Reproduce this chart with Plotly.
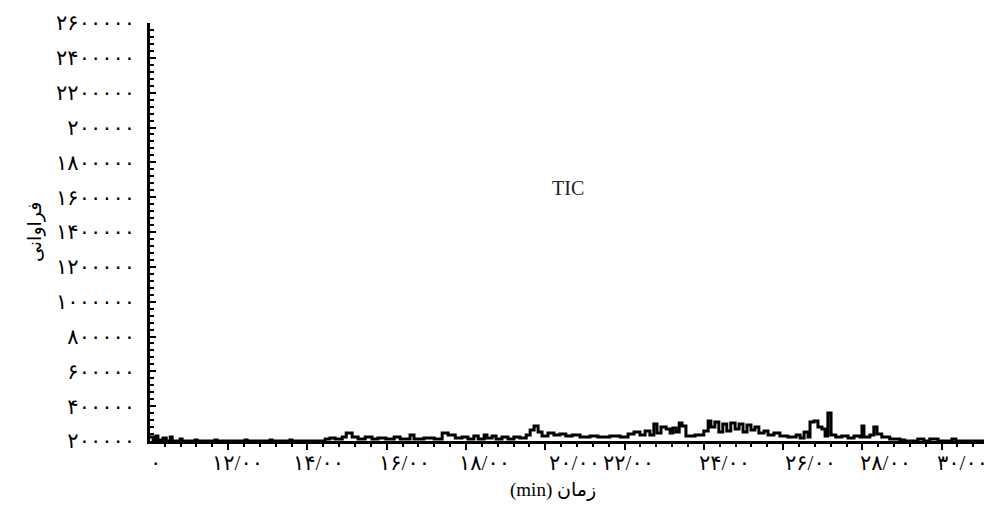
import plotly.graph_objects as go

# ---- data ----
time_min = [10.03, 10.11, 10.18, 10.23, 10.36, 10.44, 10.54, 10.59, 10.79, 10.84,
            11.17, 11.22, 11.67, 11.72, 12.43, 12.48, 13.06, 13.11, 13.56, 13.61,
            14.45, 14.57, 14.70, 14.88, 14.98, 15.13, 15.28, 15.46, 15.63, 15.78,
            15.98, 16.19, 16.34, 16.59, 16.69, 16.94, 17.20, 17.40, 17.55, 17.73,
            17.90, 18.05, 18.20, 18.31, 18.46, 18.53, 18.66, 18.76, 18.91, 19.06,
            19.21, 19.36, 19.52, 19.62, 19.72, 19.82, 19.92, 20.07, 20.22, 20.37,
            20.52, 20.68, 20.88, 21.13, 21.33, 21.63, 21.89, 22.09, 22.24, 22.39,
            22.52, 22.64, 22.74, 22.82, 22.92, 23.05, 23.15, 23.22, 23.30, 23.38,
            23.45, 23.55, 23.78, 24.00, 24.11, 24.18, 24.28, 24.38, 24.48, 24.58,
            24.68, 24.79, 24.89, 24.99, 25.09, 25.19, 25.29, 25.39, 25.52, 25.62,
            25.77, 25.92, 26.12, 26.33, 26.43, 26.53, 26.63, 26.68, 26.78, 26.88,
            26.98, 27.06, 27.13, 27.21, 27.33, 27.48, 27.64, 27.79, 27.94, 27.99,
            28.04, 28.19, 28.29, 28.37, 28.49, 28.69, 28.95, 29.07, 29.40, 29.55,
            29.70, 29.91, 30.26, 30.36, 31.22]
tic_abundance = [223000, 206000, 229000, 206000, 217000, 200000, 223000, 200000, 211000, 200000,
                 206000, 200000, 206000, 200000, 206000, 200000, 206000, 200000, 206000, 200000,
                 211000, 217000, 211000, 223000, 246000, 223000, 211000, 223000, 211000, 217000,
                 211000, 223000, 211000, 234000, 211000, 217000, 211000, 246000, 234000, 217000,
                 223000, 211000, 229000, 211000, 234000, 217000, 229000, 211000, 223000, 211000,
                 223000, 217000, 234000, 263000, 286000, 252000, 229000, 246000, 234000, 240000,
                 229000, 234000, 223000, 229000, 223000, 229000, 223000, 240000, 252000, 234000,
                 257000, 234000, 298000, 246000, 280000, 269000, 246000, 275000, 252000, 303000,
                 286000, 229000, 234000, 257000, 315000, 280000, 309000, 252000, 298000, 257000,
                 303000, 269000, 298000, 252000, 292000, 263000, 280000, 246000, 257000, 234000,
                 246000, 229000, 223000, 234000, 217000, 252000, 223000, 309000, 315000, 280000,
                 269000, 229000, 361000, 234000, 223000, 229000, 217000, 229000, 223000, 286000,
                 223000, 234000, 280000, 240000, 223000, 211000, 206000, 200000, 211000, 200000,
                 211000, 200000, 211000, 200000, 200000]

y_tick_values = [200000, 400000, 600000, 800000, 1000000, 1200000, 1400000,
                 1600000, 1800000, 2000000, 2200000, 2400000, 2600000]
y_tick_labels = ["۲۰۰۰۰۰", "۴۰۰۰۰۰", "۶۰۰۰۰۰", "۸۰۰۰۰۰", "۱۰۰۰۰۰۰", "۱۲۰۰۰۰۰", "۱۴۰۰۰۰۰",
                 "۱۶۰۰۰۰۰", "۱۸۰۰۰۰۰", "۲۰۰۰۰۰", "۲۲۰۰۰۰۰", "۲۴۰۰۰۰۰", "۲۶۰۰۰۰۰"]

x_major_ticks = [12, 14, 16, 18, 20, 22, 24, 26, 28, 30]
x_tick_labels = ["۰", "۱۲/۰۰", "۱۴/۰۰", "۱۶/۰۰", "۱۸/۰۰", "۲۰/۰۰", "۲۲/۰۰",
                 "۲۴/۰۰", "۲۶/۰۰", "۲۸/۰۰", "۳۰/۰۰"]
# where each x label sits (minutes) in the reference
x_label_pos = [10.16, 12.23, 14.27, 16.44, 18.48, 20.75, 22.10, 24.51, 26.70, 28.59, 30.53]

FONT = "Liberation Serif, DejaVu Serif, DejaVu Sans, serif"

fig = go.Figure()
fig.add_trace(go.Scatter(
    x=time_min, y=tic_abundance, mode="lines",
    line=dict(color="black", width=3, shape="hv"),
    hoverinfo="skip", showlegend=False,
))

# the page body adds an 8px offset, so the figure is 8px smaller each way
fig.update_layout(
    width=984, height=507,
    margin=dict(l=142, r=2, t=15, b=74, autoexpand=False),
    paper_bgcolor="white", plot_bgcolor="white",
    font=dict(family=FONT, color="black", size=17),
    showlegend=False,
    xaxis=dict(
        range=[10.03, 31.22], showgrid=False, zeroline=False, automargin=False,
        showline=True, linecolor="black", linewidth=2.5,
        tickmode="array", tickvals=x_major_ticks, ticktext=[""] * len(x_major_ticks),
        ticks="outside", ticklen=6, tickwidth=2, tickcolor="black",
        minor=dict(dtick=0.4, tick0=10, ticks="outside", ticklen=3,
                   tickwidth=1.5, tickcolor="black", showgrid=False),
    ),
    yaxis=dict(
        range=[200000, 2600000], showgrid=False, zeroline=False, automargin=False,
        showline=True, linecolor="black", linewidth=2.5,
        tickmode="array", tickvals=y_tick_values, ticktext=y_tick_labels,
        ticks="inside", ticklen=6, tickwidth=2, tickcolor="black",
        ticklabelstandoff=8,
        tickfont=dict(family=FONT, size=21, color="black"),
        minor=dict(dtick=40000, tick0=200000, ticks="inside", ticklen=4,
                   tickwidth=1.5, tickcolor="black", showgrid=False),
    ),
)

for pos, lab in zip(x_label_pos, x_tick_labels):
    fig.add_annotation(x=pos, y=0, xref="x", yref="paper", text=lab,
                       showarrow=False, yshift=-22, yanchor="middle",
                       font=dict(family=FONT, size=21, color="black"))

fig.add_annotation(x=20.58, y=0.605, xref="x", yref="paper", text="TIC",
                   showarrow=False, font=dict(family=FONT, size=20, color="#222"))

fig.add_annotation(x=0, y=0.5, xref="paper", yref="paper", text="فراوانی",
                   textangle=-90, showarrow=False, xshift=-128,
                   font=dict(family=FONT, size=19, color="black"))

fig.add_annotation(x=0.48, y=0, xref="paper", yref="paper", text="(min) زمان",
                   showarrow=False, yshift=-49, yanchor="middle",
                   font=dict(family=FONT, size=19, color="black"))

fig.write_html("out.html")
